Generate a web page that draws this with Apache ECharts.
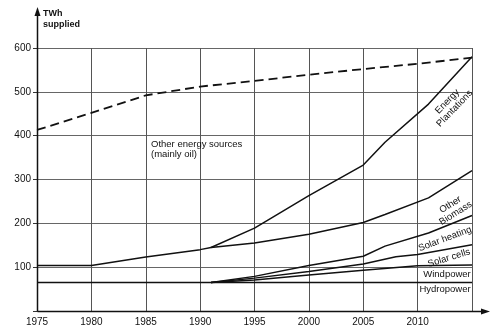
<!DOCTYPE html>
<html><head><meta charset="utf-8">
<script src="https://cdn.jsdelivr.net/npm/echarts@6/dist/echarts.min.js"></script>
<style>html,body{margin:0;padding:0;background:#fff}#c{width:500px;height:334px}</style>
</head><body><div id="c"></div>
<script>
// Data (TWh supplied, cumulative levels)
const otherSourcesYears = [1975,1980,1985,1990,1995,2000,2005,2010,2015];
const otherSources      = [413,452,492,512,525,539,552,564,578];
const plantationYears   = [1991,1995,2000,2005,2007,2011,2015];
const plantations       = [145,189,263,333,385,472,580];
const biomassYears      = [1975,1980,1985,1990,1991,1995,2000,2005,2007,2011,2015];
const biomass           = [104,104,123,140,145,155,175,202,220,258,320];
const solarHeatYears    = [1991,1995,2000,2005,2007,2011,2015];
const solarHeat         = [65,79,104,125,148,178,218];
const solarCellYears    = [1991,1995,2000,2005,2008,2010,2015];
const solarCells        = [65,75,90,107,124,129,151];
const windYears         = [1991,1995,2000,2005,2010,2015];
const wind              = [65,71,82,93,103,105];
const hydroYears        = [1975,2015];
const hydro             = [65,65];
const yTicks = [100,200,300,400,500,600];
const xTicks = [1975,1980,1985,1990,1995,2000,2005,2010];

const pairs = (xs, ys) => xs.map((x,i)=>[x, ys[i]]);
const FONT = '"Liberation Sans", Arial, sans-serif';
const chart = echarts.init(document.getElementById('c'), null, {renderer:'canvas'});
const solid = (name, xs, ys) => ({
  name, type:'line', data:pairs(xs,ys), symbol:'none', silent:true,
  lineStyle:{color:'#111', width:1.5}, z:3
});
chart.setOption({
  animation:false,
  backgroundColor:'#fff',
  grid:{left:37, right:28, top:48, bottom:23},
  xAxis:{
    type:'value', min:1975, max:2015, interval:5,
    axisLine:{show:false}, axisTick:{show:false},
    axisLabel:{color:'#111', fontSize:10, fontFamily:FONT, margin:6,
      formatter:v => xTicks.includes(v) ? String(v) : ''},
    splitLine:{show:true, lineStyle:{color:'#555', width:1}}
  },
  yAxis:{
    type:'value', min:0, max:600, interval:100,
    axisLine:{show:false},
    axisTick:{show:true, length:4, lineStyle:{color:'#333'}},
    axisLabel:{color:'#111', fontSize:10, fontFamily:FONT, margin:6,
      formatter:v => yTicks.includes(v) ? String(v) : ''},
    splitLine:{show:true, lineStyle:{color:'#666', width:1}}
  },
  series:[
    {name:'Other energy sources', type:'line', data:pairs(otherSourcesYears, otherSources),
     symbol:'none', silent:true, lineStyle:{color:'#111', width:1.8, type:[9,5]}, z:3},
    solid('Energy Plantations', plantationYears, plantations),
    solid('Other Biomass', biomassYears, biomass),
    solid('Solar heating', solarHeatYears, solarHeat),
    solid('Solar cells', solarCellYears, solarCells),
    solid('Windpower', windYears, wind),
    solid('Hydropower', hydroYears, hydro)
  ]
});

// Axis lines with arrows and annotations
const o = chart.convertToPixel({gridIndex:0}, [1975, 0]);
const ox = Math.round(o[0]) + 0.5, oy = Math.round(o[1]) + 0.5;
const txt = (text, x, y, rot, size) => ({
  type:'text', x, y, rotation:rot || 0, z:10,
  style:{text, x:0, y:0, fill:'#111', font:(size || 10) + 'px ' + FONT, align:'center', verticalAlign:'middle', lineHeight:10}
});
chart.setOption({
  graphic:[
    {type:'line', shape:{x1:ox, y1:oy, x2:ox, y2:14}, style:{stroke:'#111', lineWidth:1.5}, z:5},
    {type:'polygon', shape:{points:[[ox-3,16],[ox+3,16],[ox,7]]}, style:{fill:'#111'}, z:5},
    {type:'line', shape:{x1:ox, y1:oy, x2:484, y2:oy}, style:{stroke:'#111', lineWidth:1.5}, z:5},
    {type:'polygon', shape:{points:[[481,oy-3],[481,oy+3],[490,oy]]}, style:{fill:'#111'}, z:5},
    {type:'text', x:43, y:8, z:10, style:{text:'TWh\nsupplied', fill:'#111', font:'bold 9px ' + FONT, align:'left', verticalAlign:'top', lineHeight:11}},
    {type:'text', x:151, y:139, z:10, style:{text:'Other energy sources\n(mainly oil)', fill:'#111', font:'9.5px ' + FONT, align:'left', verticalAlign:'top', lineHeight:10.5}},
    txt('Energy\nPlantations', 451, 105, 0.8, 9.5),
    txt('Other\nBiomass', 453, 209, 0.56, 9.5),
    txt('Solar heating', 445, 239, 0.36, 9.5),
    txt('Solar cells', 449, 258, 0.3, 9.5),
    txt('Windpower', 447, 274, 0, 9.5),
    txt('Hydropower', 445, 289, 0, 9.5)
  ]
});
</script>
</body></html>
